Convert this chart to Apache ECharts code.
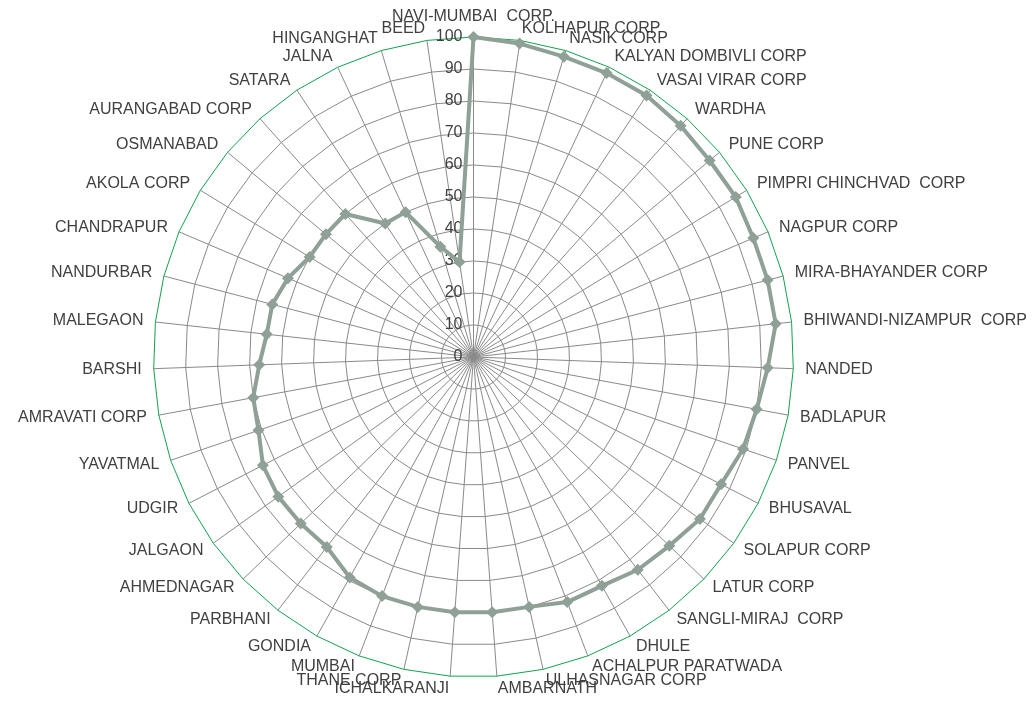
<!DOCTYPE html>
<html>
<head>
<meta charset="utf-8">
<script src="https://cdn.jsdelivr.net/npm/echarts@6/dist/echarts.min.js"></script>
<style>
html,body{margin:0;padding:0;background:#fff;}
#chart{width:1036px;height:704px;}
</style>
</head>
<body>
<div id="chart"></div>
<script>
// Categories in clockwise order starting at the top
const categories = [
  'NAVI-MUMBAI  CORP.', 'KOLHAPUR CORP', 'NASIK CORP', 'KALYAN DOMBIVLI CORP', 'VASAI VIRAR CORP',
  'WARDHA', 'PUNE CORP', 'PIMPRI CHINCHVAD  CORP', 'NAGPUR CORP', 'MIRA-BHAYANDER CORP',
  'BHIWANDI-NIZAMPUR  CORP', 'NANDED', 'BADLAPUR', 'PANVEL', 'BHUSAVAL',
  'SOLAPUR CORP', 'LATUR CORP', 'SANGLI-MIRAJ  CORP', 'DHULE', 'ACHALPUR PARATWADA',
  'ULHASNAGAR CORP', 'AMBARNATH', 'ICHALKARANJI', 'THANE CORP', 'MUMBAI',
  'GONDIA', 'PARBHANI', 'AHMEDNAGAR', 'JALGAON', 'UDGIR',
  'YAVATMAL', 'AMRAVATI CORP', 'BARSHI', 'MALEGAON', 'NANDURBAR',
  'CHANDRAPUR', 'AKOLA CORP', 'OSMANABAD', 'AURANGABAD CORP', 'SATARA',
  'JALNA', 'HINGANGHAT', 'BEED'
];
const values = [
  100, 99, 98, 98, 98,
  97, 96, 96, 95, 95,
  95, 92, 90, 89, 87,
  87, 85, 84, 82, 82,
  80, 80, 80, 80, 80,
  79, 75, 75, 75, 74,
  71, 70, 67, 65, 65,
  63, 60, 60, 60, 50,
  50, 36, 30
];
const axisMin = 0;
const axisMax = 100;
const tickStep = 10;

// ECharts radar lays indicators out counter-clockwise; reverse (keeping first) for clockwise order
const order = [0].concat(categories.map((_, i) => i).slice(1).reverse());
const indicator = order.map((i, k) => {
  const ind = { name: categories[i], min: axisMin, max: axisMax };
  if (k === 0) ind.axisLabel = { show: true };
  return ind;
});
const seriesValues = order.map(i => values[i]);

const nLevels = (axisMax - axisMin) / tickStep + 1;
const splitColors = [];
for (let i = 0; i < nLevels; i++) splitColors.push(i === nLevels - 1 ? '#0fa34e' : '#8a8a8a');

const chart = echarts.init(document.getElementById('chart'), null, { renderer: 'canvas' });
chart.setOption({
  animation: false,
  backgroundColor: '#ffffff',
  textStyle: { fontFamily: 'Liberation Sans, Arial, sans-serif' },
  radar: {
    center: [473.5, 357],
    radius: 320,
    startAngle: 90,
    shape: 'polygon',
    splitNumber: (axisMax - axisMin) / tickStep,
    indicator: indicator,
    axisName: {
      color: '#404040',
      fontSize: 16,
      fontFamily: 'Liberation Sans, Arial, sans-serif'
    },
    nameGap: 12,
    axisLine: { show: true, lineStyle: { color: '#8a8a8a', width: 1 } },
    axisTick: { show: false },
    axisLabel: {
      show: false,
      color: '#404040',
      fontSize: 16,
      margin: 11,
      fontFamily: 'Liberation Sans, Arial, sans-serif'
    },
    splitLine: { show: true, lineStyle: { color: splitColors, width: 1 } },
    splitArea: { show: false }
  },
  series: [{
    type: 'radar',
    symbol: 'diamond',
    symbolSize: 12,
    lineStyle: { color: '#8fa096', width: 4 },
    itemStyle: { color: '#8fa096' },
    data: [{ value: seriesValues, name: 'Score' }]
  }]
});
</script>
</body>
</html>
